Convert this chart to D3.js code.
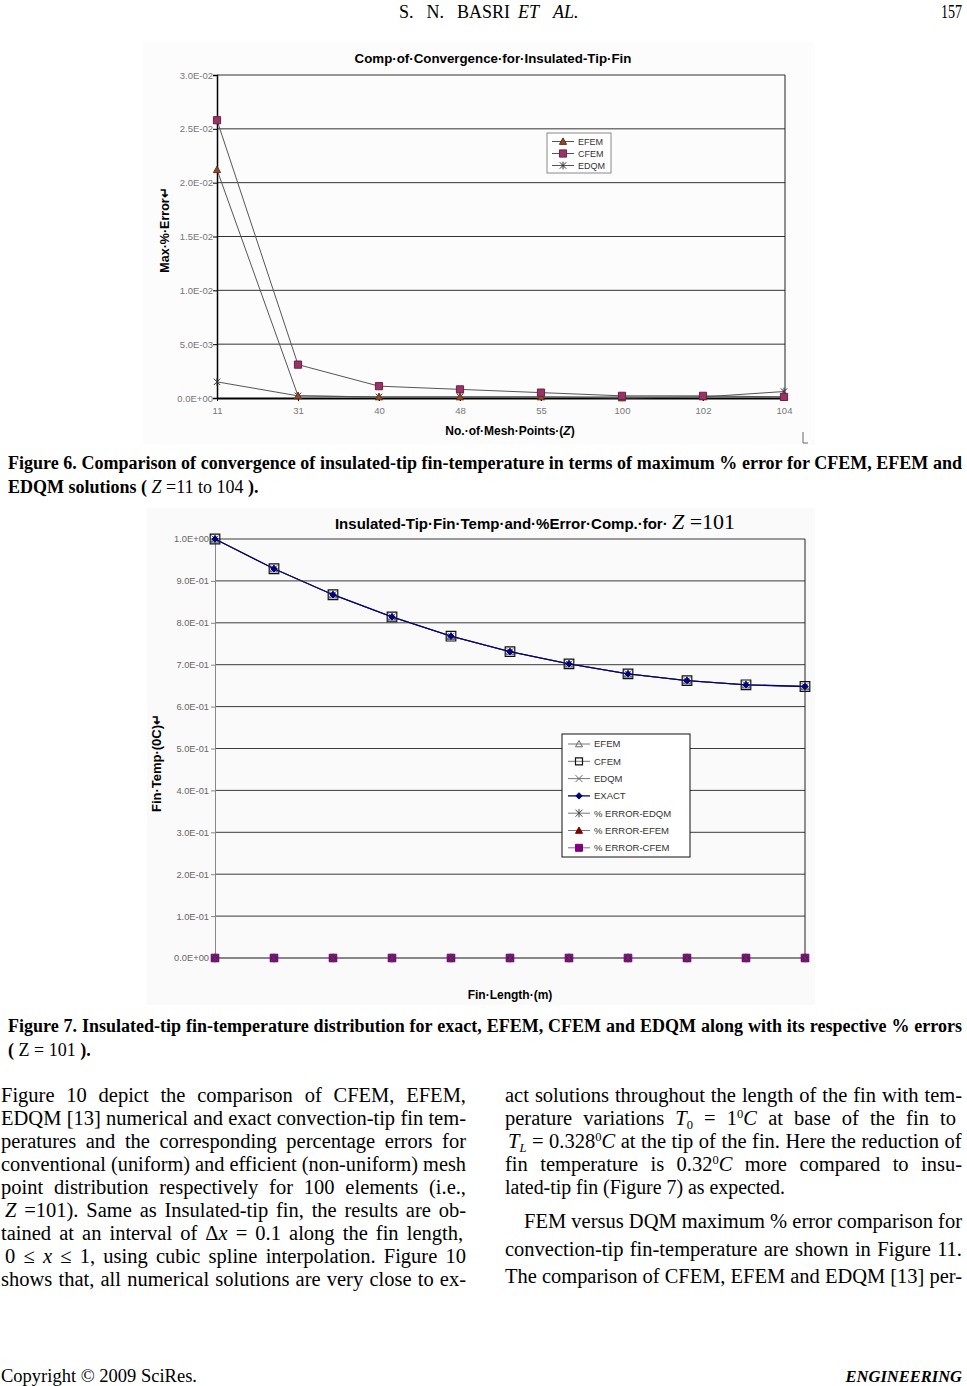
<!DOCTYPE html>
<html>
<head>
<meta charset="utf-8">
<script src="https://cdn.jsdelivr.net/npm/d3@7"></script>
<style>
  body { margin: 0; background: #fff; }
  svg { display: block; }
</style>
</head>
<body>
<svg id="page" width="967" height="1386"></svg>
<script>
// ---- Figure 6 data ----
const meshPoints = ["11", "31", "40", "48", "55", "100", "102", "104"];
const efemMaxErr = [0.0212, 0.0002, 0.0001, 0.0001, 0.0001, 0.0000, 0.0001, 0.0001];
const cfemMaxErr = [0.0258, 0.0031, 0.0011, 0.0008, 0.0005, 0.0002, 0.0002, 0.0001];
const edqmMaxErr = [0.0015, 0.0002, 0.0001, 0.0001, 0.0001, 0.0001, 0.0001, 0.0006];
const errTicks = [0, 0.005, 0.01, 0.015, 0.02, 0.025, 0.03];

// ---- Figure 7 data ----
const finLength = [0.0, 0.1, 0.2, 0.3, 0.4, 0.5, 0.6, 0.7, 0.8, 0.9, 1.0];
const exactTemp = [1.000, 0.929, 0.867, 0.814, 0.768, 0.731, 0.702, 0.678, 0.662, 0.652, 0.648];
const efemTemp  = [1.000, 0.929, 0.867, 0.814, 0.768, 0.731, 0.702, 0.678, 0.662, 0.652, 0.648];
const cfemTemp  = [1.000, 0.929, 0.867, 0.814, 0.768, 0.731, 0.702, 0.678, 0.662, 0.652, 0.648];
const edqmTemp  = [1.000, 0.929, 0.867, 0.814, 0.768, 0.731, 0.702, 0.678, 0.662, 0.652, 0.648];
const errEdqm   = [0, 0, 0, 0, 0, 0, 0, 0, 0, 0, 0];
const errEfem   = [0, 0, 0, 0, 0, 0, 0, 0, 0, 0, 0];
const errCfem   = [0, 0, 0, 0, 0, 0, 0, 0, 0, 0, 0];
const tempTicks = [0, 0.1, 0.2, 0.3, 0.4, 0.5, 0.6, 0.7, 0.8, 0.9, 1.0];

const svg = d3.select("#page");
const SANS = "'Liberation Sans', Arial, sans-serif";
const SERIF = "'Liberation Serif', 'Times New Roman', serif";

// excel style exponent label, e.g. 2.5E-02
const sci = v => {
  const [m, e] = v.toExponential(1).toUpperCase().split("E");
  const n = +e;
  return m + "E" + (n < 0 ? "-" : "+") + String(Math.abs(n)).padStart(2, "0");
};

// marker shapes (s = half size)
function marker(type, s) {
  switch (type) {
    case "triangle": return `M0,${-s}L${s},${s * 0.8}L${-s},${s * 0.8}Z`;
    case "square": return `M${-s},${-s}h${2 * s}v${2 * s}h${-2 * s}Z`;
    case "diamond": return `M0,${-s}L${s},0L0,${s}L${-s},0Z`;
    case "x": return `M${-s},${-s}L${s},${s}M${s},${-s}L${-s},${s}`;
    case "star": return `M${-s},${-s}L${s},${s}M${s},${-s}L${-s},${s}M0,${-s * 1.2}V${s * 1.2}`;
  }
}

function drawSeries(g, xs, ys, x, y, st) {
  const pts = xs.map((d, i) => [x(d), y(ys[i])]);
  g.append("path")
    .attr("d", d3.line()(pts))
    .attr("fill", "none")
    .attr("stroke", st.line)
    .attr("stroke-width", st.lw || 1);
  g.selectAll(null).data(pts).enter().append("path")
    .attr("transform", p => `translate(${p[0]},${p[1]})`)
    .attr("d", marker(st.shape, st.size))
    .attr("fill", st.fill)
    .attr("stroke", st.stroke)
    .attr("stroke-width", st.sw || 1);
}

function legendRow(g, x, y, st, label, fs) {
  g.append("line").attr("x1", x).attr("x2", x + 22).attr("y1", y).attr("y2", y)
    .attr("stroke", st.line).attr("stroke-width", st.lw || 1);
  g.append("path").attr("transform", `translate(${x + 11},${y})`)
    .attr("d", marker(st.shape, st.size))
    .attr("fill", st.fill).attr("stroke", st.stroke).attr("stroke-width", st.sw || 1);
  g.append("text").attr("x", x + 26).attr("y", y + fs * 0.36)
    .attr("font-family", SANS).attr("font-size", fs).attr("fill", "#333").text(label);
}

// ================= Figure 6 =================
const c1 = svg.append("g");
c1.append("rect").attr("x", 143).attr("y", 42).attr("width", 672).attr("height", 403).attr("fill", "#fcfcfc");

const x1 = d3.scalePoint().domain(meshPoints).range([217, 784]);
const y1 = d3.scaleLinear().domain([0, 0.03]).range([398, 75]);

c1.selectAll(".g1").data(errTicks.slice(1)).enter().append("line")
  .attr("x1", 217).attr("x2", 785).attr("y1", d => y1(d)).attr("y2", d => y1(d))
  .attr("stroke", "#333").attr("stroke-width", 1);
c1.append("line").attr("x1", 785).attr("x2", 785).attr("y1", 75).attr("y2", 398).attr("stroke", "#222");

const yAx1 = c1.append("g").attr("transform", "translate(217,0)")
  .call(d3.axisLeft(y1).tickValues(errTicks).tickFormat(sci).tickSize(4));
yAx1.select(".domain").attr("stroke", "#000").attr("stroke-width", 1.5);
yAx1.selectAll(".tick line").attr("stroke", "#000");
yAx1.selectAll("text").attr("font-family", SANS).attr("font-size", 9.5).attr("fill", "#777").attr("x", -4);

const xAx1 = c1.append("g").attr("transform", "translate(0,398)")
  .call(d3.axisBottom(x1).tickSize(3).tickSizeOuter(0));
xAx1.select(".domain").attr("stroke", "#000").attr("stroke-width", 2);
xAx1.selectAll("text").attr("font-family", SANS).attr("font-size", 9.5).attr("fill", "#777").attr("dy", "1.05em");

const s1 = {
  efem: { line: "#555", shape: "triangle", size: 3.6, fill: "#8b4a2b", stroke: "#6b3015" },
  cfem: { line: "#555", shape: "square", size: 3.6, fill: "#993366", stroke: "#6a2046" },
  edqm: { line: "#555", shape: "star", size: 3.2, fill: "none", stroke: "#333" }
};
drawSeries(c1, meshPoints, edqmMaxErr, x1, y1, s1.edqm);
drawSeries(c1, meshPoints, efemMaxErr, x1, y1, s1.efem);
drawSeries(c1, meshPoints, cfemMaxErr, x1, y1, s1.cfem);

c1.append("text").attr("x", 493).attr("y", 63).attr("text-anchor", "middle")
  .attr("font-family", SANS).attr("font-weight", "bold").attr("font-size", 13.3)
  .text("Comp·of·Convergence·for·Insulated-Tip·Fin");
c1.append("text").attr("transform", "translate(169,230) rotate(-90)").attr("text-anchor", "middle")
  .attr("font-family", SANS).attr("font-weight", "bold").attr("font-size", 12.5)
  .text("Max·%·Error↵");
const xt1 = c1.append("text").attr("x", 510).attr("y", 435).attr("text-anchor", "middle")
  .attr("font-family", SANS).attr("font-weight", "bold").attr("font-size", 12);
xt1.append("tspan").text("No.·of·Mesh·Points·(");
xt1.append("tspan").attr("font-style", "italic").text("Z");
xt1.append("tspan").text(")");
c1.append("path").attr("d", "M803,432V443H808").attr("fill", "none").attr("stroke", "#666");

const lg1 = c1.append("g");
lg1.append("rect").attr("x", 547).attr("y", 133).attr("width", 64).attr("height", 40)
  .attr("fill", "#fff").attr("stroke", "#888");
legendRow(lg1, 552, 141.5, s1.efem, "EFEM", 9);
legendRow(lg1, 552, 153.5, s1.cfem, "CFEM", 9);
legendRow(lg1, 552, 165.5, s1.edqm, "EDQM", 9);

// ================= Figure 7 =================
const c2 = svg.append("g");
c2.append("rect").attr("x", 147).attr("y", 508).attr("width", 668).attr("height", 497).attr("fill", "#fafafa");
c2.append("clipPath").attr("id", "clip2").append("rect")
  .attr("x", 147).attr("y", 508).attr("width", 668).attr("height", 497);

const x2 = d3.scaleLinear().domain([0, 1]).range([215, 805]);
const y2 = d3.scaleLinear().domain([0, 1]).range([958, 539]);

c2.selectAll(".g2").data(tempTicks.slice(1)).enter().append("line")
  .attr("x1", 215).attr("x2", 805).attr("y1", d => y2(d)).attr("y2", d => y2(d))
  .attr("stroke", "#3a3a3a").attr("stroke-width", 1);
c2.append("line").attr("x1", 805).attr("x2", 805).attr("y1", 539).attr("y2", 958).attr("stroke", "#222");

const yAx2 = c2.append("g").attr("transform", "translate(215,0)")
  .call(d3.axisLeft(y2).tickValues(tempTicks).tickFormat(sci).tickSize(4));
yAx2.select(".domain").attr("stroke", "#888").attr("stroke-width", 1);
yAx2.selectAll(".tick line").attr("stroke", "#888");
yAx2.selectAll("text").attr("font-family", SANS).attr("font-size", 9.3).attr("fill", "#666").attr("x", -6);

const xAx2 = c2.append("g").attr("transform", "translate(0,958)").attr("clip-path", "url(#clip2)")
  .call(d3.axisBottom(x2).tickValues(finLength).tickFormat(d3.format(".1f")).tickSize(3).tickSizeOuter(0));
xAx2.select(".domain").attr("stroke", "#777").attr("stroke-width", 2);
xAx2.selectAll(".tick line").attr("stroke", "#777");
xAx2.selectAll("text").attr("font-family", SANS).attr("font-size", 9.5).attr("fill", "#444").attr("dy", "1.45em");

const s2 = {
  efem: { line: "#777", shape: "triangle", size: 4, fill: "none", stroke: "#666" },
  cfem: { line: "#777", shape: "square", size: 4.8, fill: "none", stroke: "#111", sw: 1.2 },
  edqm: { line: "#777", shape: "x", size: 3.5, fill: "none", stroke: "#666" },
  exact: { line: "#000080", shape: "diamond", size: 3.2, fill: "#000080", stroke: "#000080", lw: 1.3 },
  errEdqm: { line: "#777", shape: "star", size: 3.5, fill: "none", stroke: "#444" },
  errEfem: { line: "#777", shape: "triangle", size: 3.8, fill: "#800000", stroke: "#800000" },
  errCfem: { line: "#777", shape: "square", size: 3.8, fill: "#800080", stroke: "#800080" }
};
drawSeries(c2, finLength, efemTemp, x2, y2, s2.efem);
drawSeries(c2, finLength, cfemTemp, x2, y2, s2.cfem);
drawSeries(c2, finLength, edqmTemp, x2, y2, s2.edqm);
drawSeries(c2, finLength, exactTemp, x2, y2, s2.exact);
drawSeries(c2, finLength, errEdqm, x2, y2, s2.errEdqm);
drawSeries(c2, finLength, errEfem, x2, y2, s2.errEfem);
drawSeries(c2, finLength, errCfem, x2, y2, s2.errCfem);
drawSeries(c2, finLength, errEdqm, x2, y2, Object.assign({}, s2.errEdqm, { line: "none" }));

const t2 = c2.append("text").attr("x", 535).attr("y", 529).attr("text-anchor", "middle")
  .attr("font-family", SANS).attr("font-weight", "bold").attr("font-size", 15);
t2.append("tspan").text("Insulated-Tip·Fin·Temp·and·%Error·Comp.·for· ");
t2.append("tspan").attr("font-family", SERIF).attr("font-weight", "normal").attr("font-style", "italic")
  .attr("font-size", 22).text("Z");
t2.append("tspan").attr("font-family", SERIF).attr("font-weight", "normal").attr("font-size", 22).text(" =101");

c2.append("text").attr("transform", "translate(161,763) rotate(-90)").attr("text-anchor", "middle")
  .attr("font-family", SANS).attr("font-weight", "bold").attr("font-size", 13)
  .text("Fin·Temp·(0C)↵");
c2.append("text").attr("x", 510).attr("y", 999).attr("text-anchor", "middle")
  .attr("font-family", SANS).attr("font-weight", "bold").attr("font-size", 12)
  .text("Fin·Length·(m)");

const lg2 = c2.append("g");
lg2.append("rect").attr("x", 562).attr("y", 734).attr("width", 128).attr("height", 123)
  .attr("fill", "#fff").attr("stroke", "#111");
const lg2Rows = [
  [s2.efem, "EFEM"], [s2.cfem, "CFEM"], [s2.edqm, "EDQM"], [s2.exact, "EXACT"],
  [s2.errEdqm, "% ERROR-EDQM"], [s2.errEfem, "% ERROR-EFEM"], [s2.errCfem, "% ERROR-CFEM"]
];
lg2Rows.forEach((r, i) => {
  const st = Object.assign({}, r[0], { size: Math.min(r[0].size, 3.5) });
  legendRow(lg2, 568, 744 + i * 17.3, st, r[1], 9.5);
});

// ================= page text =================
function fitLine(sel, target) {
  const w = sel.node().getComputedTextLength();
  const spaces = (sel.text().match(/ /g) || []).length;
  if (w > target || spaces === 0) {
    sel.attr("textLength", target).attr("lengthAdjust", "spacingAndGlyphs");
  } else {
    sel.attr("word-spacing", (target - w) / spaces);
  }
}

// parts: array of [text, style] where style: i italic, n normal weight, sub, sup
function textLine(x, y, parts, opts) {
  const t = svg.append("text").attr("x", x).attr("y", y)
    .attr("font-family", SERIF).attr("font-size", opts.size || 20)
    .attr("font-weight", opts.bold ? "bold" : "normal")
    .attr("font-style", opts.italic ? "italic" : "normal")
    .attr("text-anchor", opts.anchor || "start");
  let shift = 0;
  parts.forEach(p => {
    const [str, st] = typeof p === "string" ? [p, ""] : p;
    const ts = t.append("tspan").text(str);
    if (st.includes("i")) ts.attr("font-style", "italic");
    if (st.includes("n")) ts.attr("font-weight", "normal");
    let want = 0;
    if (st.includes("sub")) { want = 4; ts.attr("font-size", 12.5); }
    if (st.includes("sup")) { want = -7; ts.attr("font-size", 12.5); }
    if (want !== shift) { ts.attr("dy", want - shift); shift = want; }
  });
  if (opts.width) fitLine(t, opts.width);
  return t;
}

// header
textLine(399, 17.5, ["S. N. BASRI"], { size: 18, width: 111 });
textLine(518, 17.5, ["ET"], { size: 18, italic: true });
textLine(553, 17.5, ["AL."], { size: 18, italic: true });
svg.append("text").attr("transform", "translate(962,17.5) scale(0.78,1)").attr("text-anchor", "end")
  .attr("font-family", SERIF).attr("font-size", 18).text("157");

// captions
textLine(8, 469, ["Figure 6. Comparison of convergence of insulated-tip fin-temperature in terms of maximum % error for CFEM, EFEM and"],
  { size: 18, bold: true, width: 954 });
textLine(8, 493, ["EDQM solutions ( ", ["Z", "in"], [" =11 to 104", "n"], " )."], { size: 18, bold: true });
textLine(8, 1032, ["Figure 7. Insulated-tip fin-temperature distribution for exact, EFEM, CFEM and EDQM along with its respective % errors"],
  { size: 18, bold: true, width: 954 });
textLine(8, 1056, ["( ", ["Z = 101", "n"], " )."], { size: 18, bold: true });

// left column
const leftLines = [
  ["Figure 10 depict the comparison of CFEM, EFEM,"],
  ["EDQM [13] numerical and exact convection-tip fin tem-"],
  ["peratures and the corresponding percentage errors for"],
  ["conventional (uniform) and efficient (non-uniform) mesh"],
  ["point distribution respectively for 100 elements (i.e.,"],
  [["Z", "i"], " =101). Same as Insulated-tip fin, the results are ob-"],
  ["tained at an interval of ", "Δ", ["x", "i"], " = 0.1  along the fin length,"],
  ["0 ≤ ", ["x", "i"], " ≤ 1, using cubic spline interpolation. Figure 10"],
  ["shows that, all numerical solutions are very close to ex-"]
];
const leftY = [1102, 1125, 1148, 1171, 1194, 1217, 1240, 1263, 1286];
leftLines.forEach((l, i) => {
  const x0 = (i === 5 || i === 7) ? 5 : 1;
  textLine(x0, leftY[i], l, { size: 20.5, width: 466 - x0 });
});

// right column
const rightLines = [
  { parts: ["act solutions throughout the length of the fin with tem-"], x: 505, w: 457 },
  { parts: ["perature variations  ", ["T", "i"], ["0", "sub"], " = 1", ["0", "sup"], ["C", "i"], " at base of the fin to"], x: 505, w: 457 },
  { parts: [["T", "i"], ["L", "isub"], " = 0.328", ["0", "sup"], ["C", "i"], "  at the tip of the fin. Here the reduction of"], x: 508, w: 454 },
  { parts: ["fin temperature is 0.32", ["0", "sup"], ["C", "i"], " more compared to insu-"], x: 505, w: 457 },
  { parts: ["lated-tip fin (Figure 7) as expected."], x: 505, w: 280 },
  { parts: ["FEM versus DQM maximum % error comparison for"], x: 524, w: 438 },
  { parts: ["convection-tip fin-temperature are shown in Figure 11."], x: 505, w: 457 },
  { parts: ["The comparison of CFEM, EFEM and EDQM [13] per-"], x: 505, w: 457 }
];
const rightY = [1102, 1125, 1148, 1171, 1194, 1228, 1256, 1283];
rightLines.forEach((l, i) => {
  textLine(l.x, rightY[i], l.parts, { size: 20.5, width: l.w });
});

// footer
textLine(1, 1382, ["Copyright © 2009 SciRes."], { size: 18.5 });
textLine(962, 1382, ["ENGINEERING"], { size: 16.5, bold: true, italic: true, anchor: "end" });
</script>
</body>
</html>
